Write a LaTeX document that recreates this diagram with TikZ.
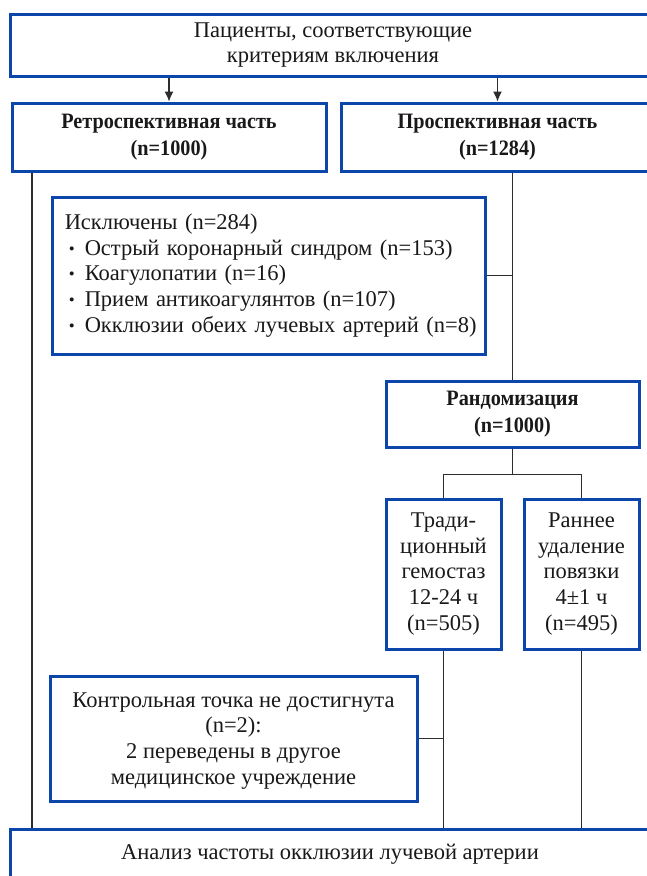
\documentclass[tikz,border=0pt]{standalone}
\usepackage{fontspec}
\setmainfont{Liberation Serif}[BoldFeatures={FakeStretch=0.92}]
\usetikzlibrary{arrows.meta,calc}
\definecolor{boxblue}{RGB}{12,70,170}
\definecolor{linegray}{RGB}{45,45,45}
\definecolor{txt}{RGB}{25,25,25}
\newcommand{\bitem}{\makebox[26pt][l]{\hspace{10pt}\raisebox{1pt}{\scalebox{0.75}{•}}}}
\begin{document}
\begin{tikzpicture}[x=1pt,y=-1pt,
  box/.style={draw=boxblue,line width=3pt,fill=white,inner sep=0pt,align=center,text=txt,
    font=\fontsize{22.5}{25.8}\selectfont},
  bbox/.style={box,font=\fontsize{22}{27}\selectfont\bfseries},
  conn/.style={draw=linegray,line width=1.2pt},
  arr/.style={conn,-{Latex[length=10pt,width=9pt]}}]
\useasboundingbox (0,0) rectangle (647,876);
\clip (0,0) rectangle (647,876);
% boxes
\node[box,minimum width=646pt,minimum height=62pt] (top) at (333,45)
  {Пациенты, соответствующие\\критериям включения};
\node[bbox,minimum width=314pt,minimum height=68pt] (retro) at (169,137)
  {Ретроспективная часть\\(n=1000)};
\node[bbox,minimum width=313pt,minimum height=68pt] (pros) at (497.5,137)
  {Проспективная часть\\(n=1284)};
\node[box,minimum width=433.5pt,minimum height=157pt,align=left,text width=420pt] (excl) at (268.75,275.5)
  {\hspace*{6pt}Исключены (n=284)\\
   \bitem Острый коронарный синдром (n=153)\\
   \bitem Коагулопатии (n=16)\\
   \bitem Прием антикоагулянтов (n=107)\\
   \bitem Окклюзии обеих лучевых артерий (n=8)};
\node[bbox,minimum width=253pt,minimum height=66pt] (rand) at (512.5,414)
  {Рандомизация\\(n=1000)};
\node[box,minimum width=115pt,minimum height=150pt] (trad) at (443.5,574)
  {Тради-\\ционный\\гемостаз\\12-24 ч\\(n=505)};
\node[box,minimum width=115pt,minimum height=150pt] (early) at (581.5,574)
  {Раннее\\удаление\\повязки\\4±1 ч\\(n=495)};
\node[box,minimum width=367pt,minimum height=125pt,text depth=0pt] (ctrl) at (233.5,738.5)
  {Контрольная точка не достигнута\\(n=2):\\2 переведены в другое\\медицинское учреждение};
\node[box,minimum width=640pt,minimum height=50pt] (anal) at (330,854)
  {Анализ частоты окклюзии лучевой артерии};
% connectors
\draw[arr] (top.south -| retro.north) -- (retro.north);
\draw[arr] (top.south -| pros.north) -- (pros.north);
\coordinate (rl) at (32,0);
\draw[conn] (retro.south -| rl) -- (anal.north -| rl);
\draw[conn] (rand.north |- pros.south) -- (rand.north);
\draw[conn] (excl.east) -- (excl.east -| rand.north);
\coordinate (br) at ($(rand.south)+(0,26)$);
\draw[conn] (rand.south) -- (br);
\draw[conn] (trad.north) -- (trad.north |- br) -- (early.north |- br) -- (early.north);
\draw[conn] (trad.south) -- (trad.south |- anal.north);
\draw[conn] (early.south) -- (early.south |- anal.north);
\draw[conn] (ctrl.east) -- (ctrl.east -| trad.south);
\end{tikzpicture}
\end{document}
